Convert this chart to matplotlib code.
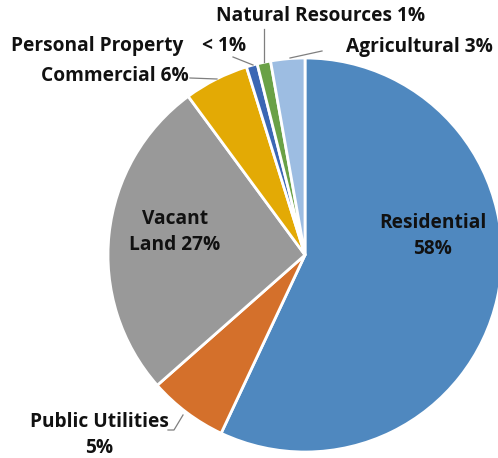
import matplotlib
matplotlib.use("Agg")
import matplotlib.pyplot as plt

# land use share, clockwise from 12 o'clock
categories = ["Residential", "Public Utilities", "Vacant Land", "Commercial",
              "Personal Property", "Natural Resources", "Agricultural"]
values = [57.0, 6.5, 26.4, 5.3, 0.9, 1.1, 2.8]
labels = ["Residential\n58%", "Public Utilities\n5%", "Vacant\nLand 27%",
          "Commercial 6%", "Personal Property", "Natural Resources 1%",
          "Agricultural 3%"]
colors = ["#4f88bf", "#d4702b", "#999999", "#e3aa05", "#3b67b4", "#6aa146", "#9dbde2"]
explode = [0.045, 0, 0, 0, 0, 0, 0]

W, H = 498, 458
fig = plt.figure(figsize=(W / 100, H / 100), dpi=100)
ax = fig.add_axes([0, 0, 1, 1])

cx, cy, r = 305, H - 255, 197
ax.pie(values, colors=colors, explode=explode, startangle=90, counterclock=False,
       center=(cx, cy), radius=r, frame=True,
       wedgeprops=dict(edgecolor="white", linewidth=2))
ax.set_xlim(0, W)
ax.set_ylim(0, H)
ax.axis("off")

font = dict(family="Open Sans", weight="bold", fontsize=13.8, color="#111111")

def y(p):
    return H - p

# labels placed like the original (pixel positions)
ax.text(433, y(236), labels[0], ha="center", va="center", linespacing=1.45, **font)
ax.text(99, y(435), labels[1], ha="center", va="center", linespacing=1.45, **font)
ax.text(175, y(232), labels[2], ha="center", va="center", linespacing=1.45, **font)
ax.text(189, y(76), labels[3], ha="right", va="center", **font)
ax.text(11, y(46), labels[4], ha="left", va="center", **font)
ax.text(202, y(46), "< 1%", ha="left", va="center", **font)
ax.text(321, y(16), labels[5], ha="center", va="center", **font)
ax.text(493, y(47), labels[6], ha="right", va="center", **font)

# leader lines
lc = dict(color="#7f7f7f", linewidth=0.9)
ax.plot([264, 264], [y(29), y(62)], **lc)
ax.plot([233, 253], [y(57), y(65)], **lc)
ax.plot([290, 322], [y(58), y(51)], **lc)
ax.plot([190, 217], [y(78), y(79)], **lc)
ax.plot([168, 174, 183], [y(430), y(430), y(415)], **lc)

fig.savefig("out.png", dpi=100)
